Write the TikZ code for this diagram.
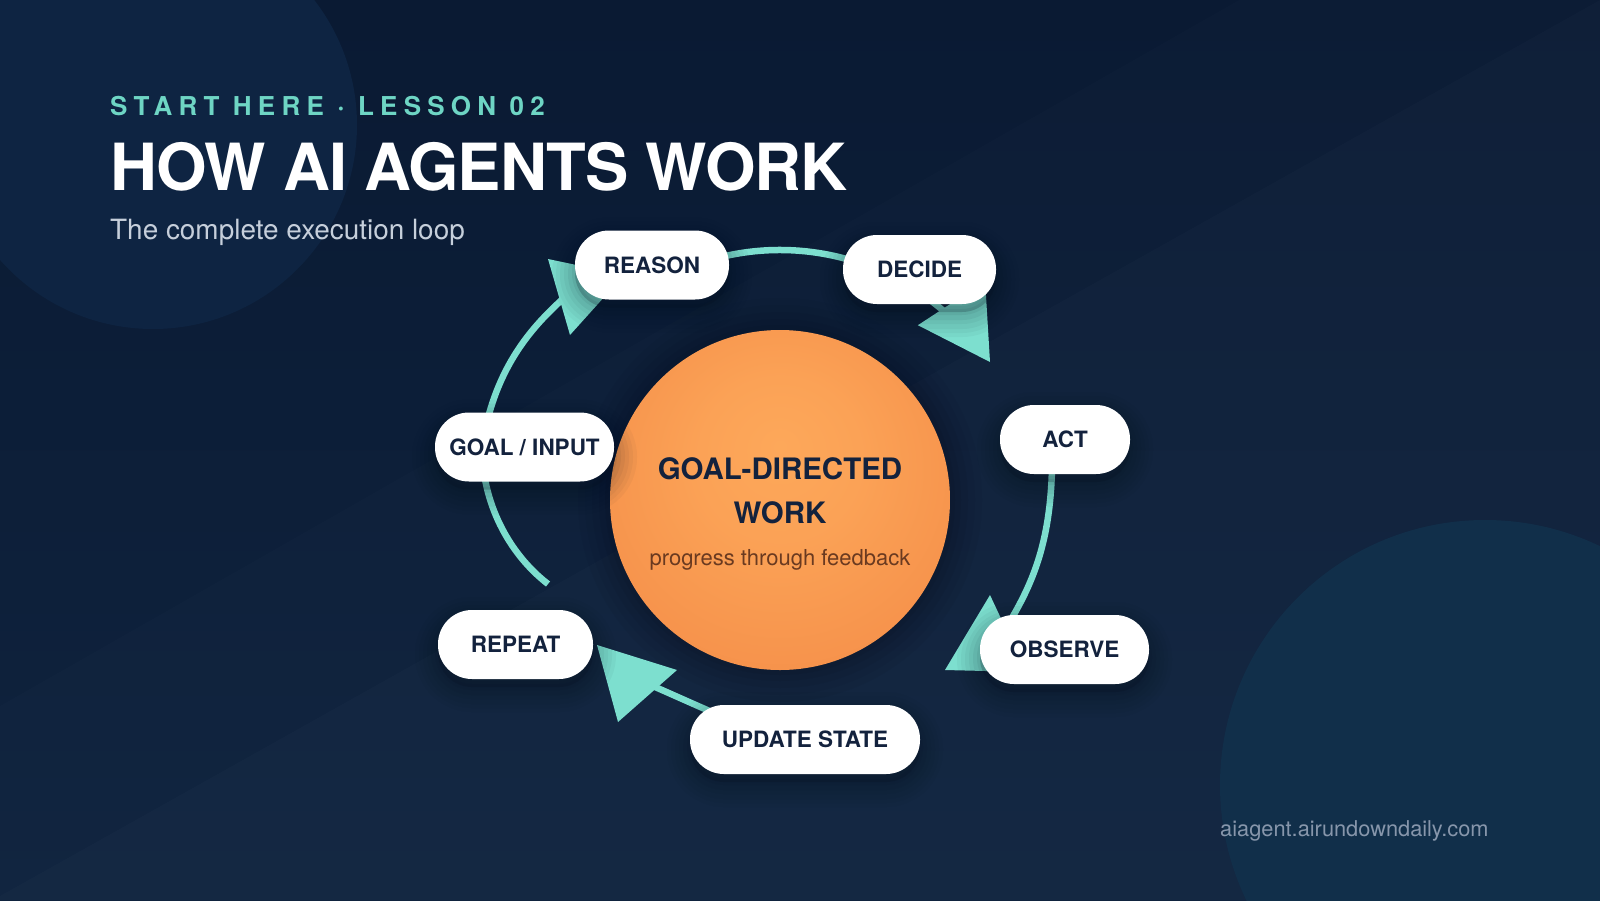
\documentclass[tikz,border=0pt]{standalone}
\usepackage{fontspec}
\setmainfont{TeX Gyre Heros}
\definecolor{bgtop}{HTML}{0A1A33}
\definecolor{bgbot}{HTML}{0F233E}
\definecolor{circtl}{HTML}{0E2442}
\definecolor{circbr}{HTML}{112F4A}
\definecolor{tealc}{HTML}{7DDFCF}
\definecolor{titleteal}{HTML}{6ED5C4}
\definecolor{navy}{HTML}{13223D}
\definecolor{subgray}{HTML}{C6CFDB}
\definecolor{footgray}{HTML}{8796AB}
\definecolor{shadowc}{HTML}{050E1C}
\definecolor{orbin}{HTML}{FDA85A}
\definecolor{orbout}{HTML}{F07F3F}
\definecolor{orbtext}{HTML}{6A3A20}
\pgfdeclareradialshading{orbshade}{\pgfpoint{0bp}{8bp}}{color(0bp)=(orbin); color(12bp)=(orbin!85!orbout); color(50bp)=(orbout)}
\tikzset{
  flow/.style={draw=tealc, line width=6.5pt, line cap=butt},
  headtri/.style={fill=tealc},
  pill/.style={rectangle, rounded corners=34pt, fill=white, minimum height=69pt,
    inner sep=0pt, text=navy, font=\bfseries\fontsize{22.5}{26}\selectfont,
    text height=16.2pt, text depth=0pt,
    preaction={draw=shadowc, draw opacity=0.035, line width=46pt, transform canvas={yshift=-10pt}},
    preaction={draw=shadowc, draw opacity=0.035, line width=38pt, transform canvas={yshift=-10pt}},
    preaction={draw=shadowc, draw opacity=0.04, line width=30pt, transform canvas={yshift=-10pt}},
    preaction={draw=shadowc, draw opacity=0.045, line width=22pt, transform canvas={yshift=-9pt}},
    preaction={draw=shadowc, draw opacity=0.05, line width=14pt, transform canvas={yshift=-9pt}},
    preaction={draw=shadowc, draw opacity=0.06, line width=6pt, transform canvas={yshift=-8pt}},
    preaction={fill=shadowc, fill opacity=0.2, transform canvas={yshift=-8pt}}},
  orb/.style={circle, minimum size=340pt, inner sep=0pt, shade, shading=orbshade,
    preaction={draw=shadowc, draw opacity=0.06, line width=64pt},
    preaction={draw=shadowc, draw opacity=0.06, line width=50pt},
    preaction={draw=shadowc, draw opacity=0.07, line width=36pt},
    preaction={draw=shadowc, draw opacity=0.08, line width=22pt},
    preaction={draw=shadowc, draw opacity=0.09, line width=10pt}},
  orbtitle/.style={text=navy, font=\bfseries\fontsize{29.5}{34}\selectfont, inner sep=0pt},
  orbsub/.style={text=orbtext, font=\fontsize{22}{26}\selectfont, inner sep=0pt},
}
\begin{document}
\begin{tikzpicture}[x=1pt, y=-1pt]
\useasboundingbox (0,0) rectangle (1600,900);
% background
\shade[top color=bgtop, bottom color=bgbot] (0,0) rectangle (1600,900);
\fill[white, opacity=0.012] (1239,0) -- (1600,0) -- (1600,900) -- (0,900) -- (0,706) -- cycle;
\fill[white, opacity=0.014] (1600,0) -- (1600,900) -- (0,900) -- (0,896) -- cycle;
\fill[circtl] (153,125) circle[radius=204];
\fill[circbr] (1485,785) circle[radius=265];

% titles
\node[anchor=base west, inner sep=0pt, text=titleteal,
  font=\bfseries\fontsize{26}{30}\selectfont\addfontfeature{LetterSpace=24}] (kicker) at (110,115) {START HERE · LESSON 02};
\node[anchor=base west, inner sep=0pt, text=white,
  font=\bfseries\fontsize{65}{70}\selectfont\addfontfeature{LetterSpace=-1.4}] (title) at (110,190) {HOW AI AGENTS WORK};
\node[anchor=base west, inner sep=0pt, text=subgray,
  font=\fontsize{27.9}{32}\selectfont] (subtitle) at (110,239) {The complete execution loop};
\node[anchor=base west, inner sep=0pt, text=footgray,
  font=\fontsize{21.8}{26}\selectfont] (footer) at (1220,836) {aiagent.airundowndaily.com};

% core
\node[orb] (core) at (780,500) {};
\node[orbtitle, anchor=base] (coreA) at (780,479) {GOAL-DIRECTED};
\node[orbtitle, anchor=base] (coreB) at (780,523) {WORK};
\node[orbsub, anchor=base] (coreC) at (780,565) {progress through feedback};

% connector anchor coordinates (hidden under pills / heads)
\coordinate (c1s) at (548,584);
\coordinate (j1) at (482,447);
\coordinate (e1) at (568,294);
\coordinate (h1) at (624,275);
\coordinate (h1a) at (548,259);
\coordinate (h1b) at (570,335);

\coordinate (c2s) at (678.3,271.6);
\coordinate (h2) at (990,362);
\coordinate (h2a) at (985.1,281.2);
\coordinate (h2b) at (917.9,325.2);

\coordinate (c3s) at (1052,445);
\coordinate (e3) at (999.4,638.5);
\coordinate (h3) at (945,670);
\coordinate (h3a) at (990,595);
\coordinate (h3b) at (1026,672);

\coordinate (c4s) at (760,733);
\coordinate (e4) at (650,684.7);
\coordinate (h4) at (597,645);
\coordinate (h4a) at (677,670);
\coordinate (h4b) at (618,722);

% connectors
\draw[flow] (c1s) .. controls (508,553) and (482,502) .. (j1)
            .. controls (495.5,358) and (542.5,318) .. (e1);
\fill[headtri] (h1) -- (h1a) -- (h1b) -- cycle;

\draw[flow] (c2s) arc[start angle=246, end angle=318, radius=250];
\fill[headtri] (h2) -- (h2a) -- (h2b) -- cycle;

\draw[flow] (c3s) .. controls (1054,545) and (1030,590) .. (e3);
\fill[headtri] (h3) -- (h3a) -- (h3b) -- cycle;

\draw[flow] (c4s) .. controls (725,718) and (680,698) .. (e4);
\fill[headtri] (h4) -- (h4a) -- (h4b) -- cycle;

% pills
\node[pill, minimum width=154pt] (reason) at (652,265) {REASON};
\node[pill, minimum width=153pt] (decide) at (919.5,269.5) {DECIDE};
\node[pill, minimum width=130pt] (act) at (1065,439.5) {ACT};
\node[pill, minimum width=169pt] (observe) at (1064.5,649.5) {OBSERVE};
\node[pill, minimum width=179pt] (goal) at (524.5,447) {GOAL / INPUT};
\node[pill, minimum width=155pt] (repeatnode) at (515.5,644.5) {REPEAT};
\node[pill, minimum width=230pt] (update) at (805,739.5) {UPDATE STATE};
\end{tikzpicture}
\end{document}
